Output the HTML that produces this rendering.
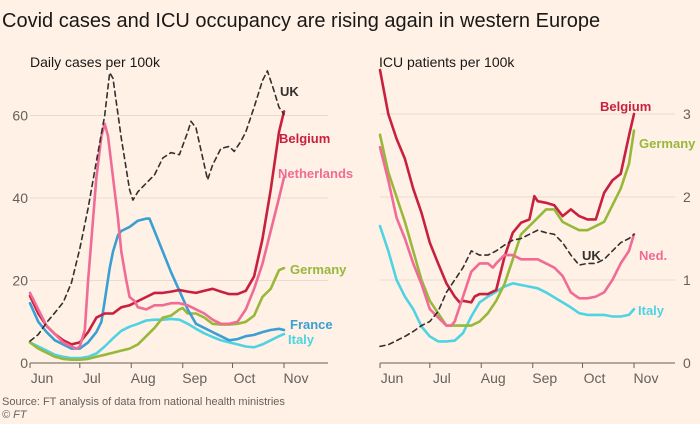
<!DOCTYPE html>
<html><head><meta charset="utf-8"><style>
body{margin:0;background:#fff1e5;}
svg{display:block;font-family:"Liberation Sans",sans-serif;}
</style></head><body>
<svg id="c" width="700" height="424" viewBox="0 0 700 424">
<rect width="700" height="424" fill="#fff1e5"/>
<text x="2" y="27" font-size="20" fill="#1a1817">Covid cases and ICU occupancy are rising again in western Europe</text>
<text x="30" y="67" font-size="14" fill="#1a1817">Daily cases per 100k</text>
<text x="379" y="67" font-size="14" fill="#1a1817">ICU patients per 100k</text>
<text x="2" y="405" font-size="11" fill="#66605c">Source: FT analysis of data from national health ministries</text>
<text x="2" y="418" font-size="11" fill="#66605c" font-style="italic">© FT</text>
<g id="L"></g><g id="R"></g>
</svg>
<script>
const months=["Jun","Jul","Aug","Sep","Oct","Nov"];
const monthDays=[0,30,61,92,122,153];
const leftTicks=[0,20,40,60];
const rightTicks=[0,1,2,3];
const ukDays=[0,5,10,15,20,25,30,35,40,45,48,50,55,60,62,65,70,75,80,85,90,95,97,100,105,107,110,115,120,123,127,130,135,140,143,147,150,153];
const ukCases=[5.3,6.9,9.8,12.2,14.7,19.5,27.7,37.5,48.9,60,70.4,69,54.5,42,39.5,41.5,43.6,45.6,49.7,51,50.5,56,58.6,57,48,44.4,48,52,52.5,51.3,53.7,56,62,68.4,70.8,66,62,60.3];
const d5=[0,5,10,15,20,25,30,35,40,45,50,55,60,65,70,75,80,85,90,95,100,105,110,115,120,125,130,135,140,145,150,153];
const belCases=[16.3,12,9,7,5.5,4.5,5,7.5,11,12,12,13.5,14,15,16,17,17,17.3,17.7,17.3,17,17.5,18,17.3,16.7,16.7,17.5,21,30,42,56,61];
const nlDays=[0,5,10,15,20,25,28,30,33,35,38,40,43,45,47,50,53,55,58,60,63,65,70,75,80,85,90,95,100,105,110,115,120,125,130,135,140,145,150,153];
const nlCases=[17,13,9,7,5,4,3.5,4,8,20,35,45,55,58,55,45,35,27,20,16,15,13.5,13,14,14,14.5,14.5,14,13,12,10.5,9.5,9.5,10,13,18,24,32,40,45];
const frDays=[0,5,10,15,20,25,30,35,40,43,45,48,50,53,55,60,65,70,72,75,80,85,90,95,100,105,110,115,120,125,130,135,140,145,150,153];
const frCases=[14.5,10,7.5,5.5,4.5,3.5,3.5,5,7.5,10,15,23,27,31,32,33,34.5,35,35,32,27,22,17.5,13,9.5,8.5,7.5,6.5,5.5,5.8,6.5,6.8,7.5,8,8.3,8];
const itCases=[5,4,3,2,1.5,1.2,1.2,1.5,2.3,4,6,7.8,8.8,9.5,10.3,10.5,10.5,10.7,10.5,9.5,8.3,7.2,6.3,5.5,5,4.5,4,3.8,4.5,5.5,6.5,7];
const deDays=[0,5,10,15,20,25,30,35,40,45,50,55,60,65,70,75,80,85,90,92,95,100,105,110,115,120,125,130,135,140,145,150,153];
const deCases=[5,3.5,2.5,1.5,1,0.8,0.8,1,1.5,2,2.5,3,3.5,4.5,6.5,8.5,11,11.5,13,13.3,12,12,11,9.5,9.3,9.3,9.5,10,11.5,16,18,22.5,23];
const belIcuDays=[0,5,10,15,20,25,30,35,40,45,48,50,55,57,60,65,70,75,80,85,90,93,95,100,105,110,115,120,125,130,135,140,145,150,153];
const belIcu=[3.53,3.0,2.7,2.46,2.1,1.81,1.45,1.2,0.96,0.8,0.73,0.75,0.73,0.8,0.83,0.83,0.88,1.28,1.57,1.69,1.73,2.01,1.95,1.93,1.9,1.77,1.85,1.77,1.73,1.73,2.05,2.2,2.28,2.74,3.0];
const deIcu=[2.75,2.3,2.0,1.7,1.35,1.0,0.75,0.6,0.45,0.45,0.45,0.45,0.5,0.6,0.75,0.95,1.25,1.55,1.65,1.75,1.85,1.85,1.7,1.65,1.6,1.6,1.65,1.7,1.9,2.1,2.4,2.8];
const nlIcuDays=[0,5,10,15,20,25,30,35,40,43,45,50,55,60,65,68,70,75,80,85,90,95,100,105,110,115,120,125,130,135,140,145,150,153];
const nlIcu=[2.6,2.2,1.75,1.5,1.2,0.95,0.65,0.55,0.45,0.45,0.5,0.8,1.1,1.2,1.2,1.15,1.2,1.3,1.3,1.25,1.25,1.25,1.2,1.15,1.05,0.85,0.78,0.78,0.8,0.85,1.0,1.2,1.35,1.55];
const itIcu=[1.65,1.35,1.0,0.8,0.65,0.44,0.32,0.26,0.26,0.27,0.36,0.56,0.73,0.8,0.86,0.92,0.96,0.94,0.92,0.9,0.85,0.79,0.73,0.67,0.6,0.58,0.58,0.58,0.56,0.56,0.58,0.65];
const ukIcu=[0.2,0.22,0.27,0.32,0.38,0.45,0.5,0.62,0.85,1.0,1.15,1.35,1.3,1.3,1.35,1.42,1.48,1.5,1.55,1.6,1.57,1.55,1.45,1.3,1.18,1.2,1.2,1.25,1.35,1.45,1.5,1.55];

const NS="http://www.w3.org/2000/svg";
function mk(p,t,a){const e=document.createElementNS(NS,t);for(const k in a)e.setAttribute(k,a[k]);p.appendChild(e);return e;}
function panel(g,x0,x1,axR,y0,perUnit,ticks,labelX,anchor,series,labels){
  const xs=d=>x0+d*(x1-x0)/153, ys=v=>y0-v*perUnit;
  ticks.forEach(t=>{
    if(t>0){const gl=mk(g,'line',{x1:axR[0],x2:axR[1],y1:ys(t),y2:ys(t),stroke:'#e9dccf','stroke-width':1});
    
    }
    const tx=mk(g,'text',{x:labelX,y:ys(t)+5,'font-size':14,fill:'#66605c','text-anchor':anchor});
    tx.textContent=t;
    
    
  });
  const ax=mk(g,'line',{x1:axR[0],x2:axR[1],y1:y0,y2:y0,stroke:'#66605c','stroke-width':1});
  
  
  months.forEach((m,i)=>{
    const x=xs(monthDays[i]);
    const tk=mk(g,'line',{x1:x,x2:x,y1:y0,y2:y0+5,stroke:'#66605c'});
    
    
    const tx=mk(g,'text',{x:x+12,y:y0+20,'font-size':14,fill:'#66605c','text-anchor':'middle'});
    tx.textContent=m;
    
    
  });
  series.forEach(s=>{
    const pts=s.d.map((d,i)=>xs(d).toFixed(1)+','+ys(s.v[i]).toFixed(1)).join(' ');
    const a={points:pts,fill:'none',stroke:s.c,'stroke-width':s.dash?1.6:2.6,'stroke-linejoin':'round','stroke-linecap':'round'};
    if(s.dash)a['stroke-dasharray']='5,4';
    const pl=mk(g,'polyline',a);
    
    
  });
  labels.forEach(l=>{
    const t=mk(g,'text',{x:l[1],y:l[2],'font-size':13,'font-weight':'bold',fill:l[3]});
    t.textContent=l[0];
    
    
  });
}
const C={bel:'#c8203f',nl:'#f06b95',fr:'#3a9fd3',it:'#4fd3e3',de:'#98b83b',uk:'#33302e'};
panel(document.getElementById('L'),30,284,[30,328],363,82.5/20,leftTicks,28,'end',[
 {d:d5,v:itCases,c:C.it,n:'italy-cases-line'},
 {d:deDays,v:deCases,c:C.de,n:'germany-cases-line'},
 {d:frDays,v:frCases,c:C.fr,n:'france-cases-line'},
 {d:d5,v:belCases,c:C.bel,n:'belgium-cases-line'},
 {d:nlDays,v:nlCases,c:C.nl,n:'netherlands-cases-line'},
 {d:ukDays,v:ukCases,c:C.uk,n:'uk-cases-line',dash:1}
],[["UK",280,96,'#33302e','uk-label'],["Belgium",279,143,C.bel,'belgium-label'],["Netherlands",278,178,C.nl,'netherlands-label'],["Germany",290,274,C.de,'germany-label'],["France",290,329,C.fr,'france-label'],["Italy",288,344,C.it,'italy-label']]);
panel(document.getElementById('R'),380,634,[380,675],363,83,rightTicks,683,'start',[
 {d:d5,v:itIcu,c:C.it,n:'italy-icu-line'},
 {d:d5,v:deIcu,c:C.de,n:'germany-icu-line'},
 {d:belIcuDays,v:belIcu,c:C.bel,n:'belgium-icu-line'},
 {d:nlIcuDays,v:nlIcu,c:C.nl,n:'netherlands-icu-line'},
 {d:d5,v:ukIcu,c:C.uk,n:'uk-icu-line',dash:1}
],[["Belgium",600,111,C.bel,'belgium-icu-label'],["Germany",639,148,C.de,'germany-icu-label'],["UK",582,260,'#33302e','uk-icu-label'],["Ned.",639,260,C.nl,'netherlands-icu-label'],["Italy",638,315,C.it,'italy-icu-label']]);
</script>
</body></html>
